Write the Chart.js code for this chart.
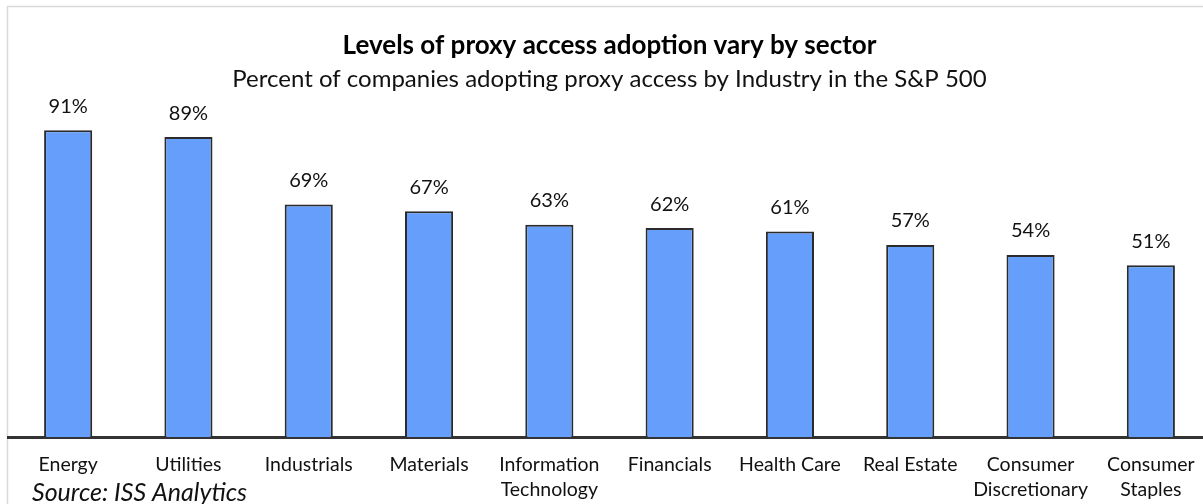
<!DOCTYPE html>
<html>
<head>
<meta charset="utf-8">
<script src="https://cdn.jsdelivr.net/npm/chart.js@4"></script>
<style>
  html, body { margin: 0; padding: 0; background: #fff; overflow: hidden; }
  #wrap { position: absolute; left: 0; top: 0; width: 1212px; height: 504px; }
</style>
</head>
<body>
<div id="wrap"><canvas id="sectorChart" width="1212" height="504"></canvas></div>
<script>
// Sector adoption data (percent of S&P 500 companies)
const sectors = [
  "Energy", "Utilities", "Industrials", "Materials",
  ["Information", "Technology"], "Financials", "Health Care", "Real Estate",
  ["Consumer", "Discretionary"], ["Consumer", "Staples"]
];
const adoption = [91, 89, 69, 67, 63, 62, 61, 57, 54, 51];

const FONT = "Lato, 'Open Sans', sans-serif";

// Light frame around the chart
const frame = {
  id: "frame",
  beforeDraw(chart) {
    const ctx = chart.ctx;
    ctx.save();
    ctx.strokeStyle = "#d9d9d9";
    ctx.lineWidth = 1.5;
    ctx.strokeRect(7.5, 6.5, chart.width + 20, chart.height + 20);
    ctx.restore();
  }
};

// Percent labels above bars + source note
const valueLabels = {
  id: "valueLabels",
  afterDatasetsDraw(chart) {
    const ctx = chart.ctx;
    const meta = chart.getDatasetMeta(0);
    ctx.save();
    ctx.fillStyle = "#111";
    ctx.font = "20px " + FONT;
    ctx.textAlign = "center";
    ctx.textBaseline = "middle";
    meta.data.forEach((bar, i) => {
      ctx.fillText(adoption[i] + "%", bar.x, bar.y - 24);
    });
    ctx.font = "italic 25px " + FONT;
    ctx.textAlign = "left";
    ctx.fillText("Source: ISS Analytics", 32, 493);
    ctx.restore();
  }
};

new Chart(document.getElementById("sectorChart"), {
  type: "bar",
  data: {
    labels: sectors,
    datasets: [{
      data: adoption,
      backgroundColor: "#659ffb",
      borderColor: "#2b2b2b",
      borderWidth: 2,
      borderSkipped: "bottom",
      categoryPercentage: 1,
      barPercentage: 0.4
    }]
  },
  options: {
    responsive: false,
    animation: false,
    layout: { padding: { left: 8, right: 1, top: 0, bottom: 0 } },
    plugins: {
      legend: { display: false },
      tooltip: { enabled: false },
      title: {
        display: true,
        text: "Levels of proxy access adoption vary by sector",
        color: "#000",
        font: { family: FONT, size: 26, weight: "bold" },
        padding: { top: 30, bottom: 4 }
      },
      subtitle: {
        display: true,
        text: "Percent of companies adopting proxy access by Industry in the S&P 500",
        color: "#111",
        font: { family: FONT, size: 24 },
        padding: { top: 0, bottom: 6 }
      }
    },
    scales: {
      x: {
        grid: { display: false, drawTicks: false },
        border: { display: true, color: "#333", width: 3 },
        ticks: {
          color: "#111",
          font: { family: FONT, size: 19.5, lineHeight: 1.29 },
          padding: 15,
          maxRotation: 0,
          autoSkip: false
        },
        afterFit(scale) { scale.height = 67; }
      },
      y: {
        display: false,
        min: 0,
        max: 100
      }
    }
  },
  plugins: [frame, valueLabels]
});
</script>
</body>
</html>
